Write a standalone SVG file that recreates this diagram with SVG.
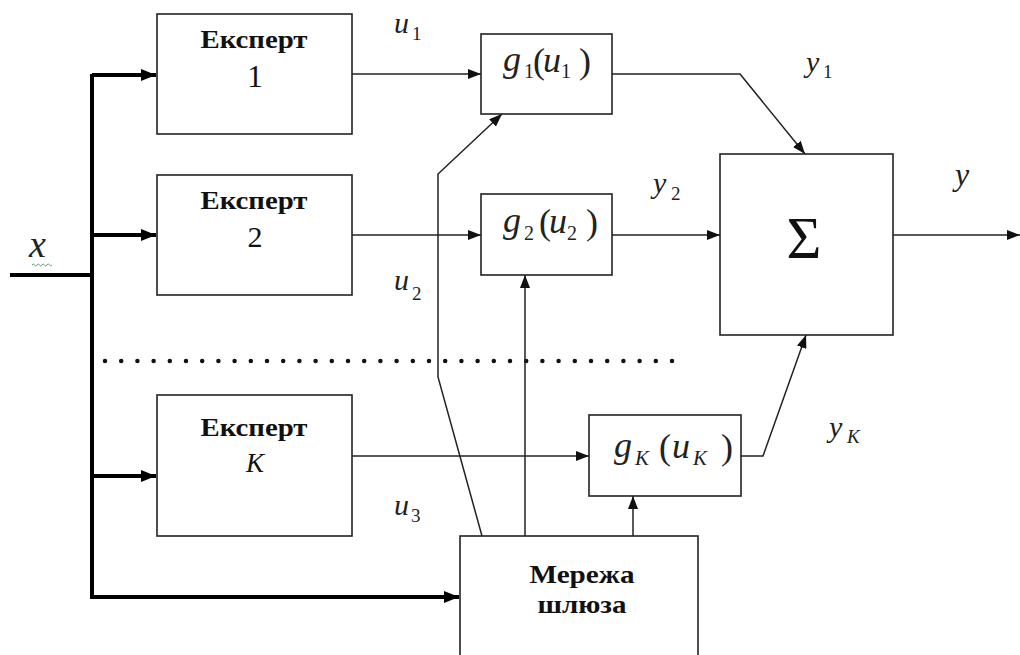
<svg xmlns="http://www.w3.org/2000/svg" width="1020" height="655" viewBox="0 0 1020 655" font-family="Liberation Serif, serif">
<defs>
<marker id="a" markerUnits="userSpaceOnUse" markerWidth="14" markerHeight="10" refX="13" refY="5" orient="auto"><path d="M0,0 L13,5 L0,10 z" fill="#111"/></marker>
<marker id="ab" markerUnits="userSpaceOnUse" markerWidth="16" markerHeight="12" refX="15" refY="6" orient="auto"><path d="M0,0 L15,6 L0,12 z" fill="#000"/></marker>
</defs>
<rect width="1020" height="655" fill="#fff"/>

<g id="connectors" fill="none">
<g stroke="#000" stroke-width="4">
<path d="M10,275 H92"/>
<path d="M92,74 V597 H459" marker-end="url(#ab)"/>
<path d="M92,75 H156" marker-end="url(#ab)"/>
<path d="M92,235 H156" marker-end="url(#ab)"/>
<path d="M92,476 H156" marker-end="url(#ab)"/>
</g>
<path d="M105,361 H676" stroke="#111" stroke-width="4.5" stroke-linecap="round" stroke-dasharray="0 16.2"/>
<g stroke="#222" stroke-width="1.5">
<path d="M352,74 H481" marker-end="url(#a)"/>
<path d="M352,235 H481" marker-end="url(#a)"/>
<path d="M352,456 H589" marker-end="url(#a)"/>
<path d="M612,74 H740 L805,154" marker-end="url(#a)"/>
<path d="M612,235 H720" marker-end="url(#a)"/>
<path d="M741,456 H763 L806,335" marker-end="url(#a)"/>
<path d="M893,235 H1020" marker-end="url(#a)"/>
<path d="M482,536 L438,377 V174 L502,114" marker-end="url(#a)"/>
<path d="M525,536 V275" marker-end="url(#a)"/>
<path d="M633,536 V496" marker-end="url(#a)"/>
</g>
</g>

<g fill="#222">
<g id="expert1">
<rect x="157" y="14" width="195" height="120" fill="#fff" stroke="#222" stroke-width="1.6"/>
<text x="254" y="48" style="font-family:'Liberation Serif',serif !important" font-weight="bold" font-size="25" text-anchor="middle" fill="#111" textLength="107" lengthAdjust="spacingAndGlyphs">Експерт</text>
<text x="255" y="87" style="font-family:'Liberation Serif',serif !important" font-size="31" text-anchor="middle" fill="#111">1</text>
</g>
<g id="expert2">
<rect x="157" y="175" width="195" height="120" fill="#fff" stroke="#222" stroke-width="1.6"/>
<text x="254" y="209" style="font-family:'Liberation Serif',serif !important" font-weight="bold" font-size="25" text-anchor="middle" fill="#111" textLength="107" lengthAdjust="spacingAndGlyphs">Експерт</text>
<text x="255" y="247" style="font-family:'Liberation Serif',serif !important" font-size="30" text-anchor="middle" fill="#111">2</text>
</g>
<g id="expertK">
<rect x="157" y="395" width="195" height="141" fill="#fff" stroke="#222" stroke-width="1.6"/>
<text x="254" y="436" style="font-family:'Liberation Serif',serif !important" font-weight="bold" font-size="25" text-anchor="middle" fill="#111" textLength="107" lengthAdjust="spacingAndGlyphs">Експерт</text>
<text x="255" y="472" style="font-family:'Liberation Serif',serif !important" font-style="italic" font-size="27" text-anchor="middle" fill="#111">K</text>
</g>

<g id="g1">
<rect x="481" y="34" width="131" height="80" fill="#fff" stroke="#222" stroke-width="1.6"/>
<text x="503" y="71" style="font-family:'Liberation Serif',serif !important" font-style="italic" font-size="36">g</text>
<text x="524" y="78" style="font-family:'Liberation Serif',serif !important" font-size="20">1</text>
<text x="533" y="73" style="font-family:'Liberation Serif',serif !important" font-size="36">(</text>
<text x="543" y="72" style="font-family:'Liberation Serif',serif !important" font-style="italic" font-size="36">u</text>
<text x="561" y="78" style="font-family:'Liberation Serif',serif !important" font-size="20">1</text>
<text x="579" y="73" style="font-family:'Liberation Serif',serif !important" font-size="36">)</text>
</g>
<g id="g2">
<rect x="481" y="194" width="131" height="81" fill="#fff" stroke="#222" stroke-width="1.6"/>
<text x="503" y="232" style="font-family:'Liberation Serif',serif !important" font-style="italic" font-size="36">g</text>
<text x="524" y="240" style="font-family:'Liberation Serif',serif !important" font-size="20">2</text>
<text x="539" y="234" style="font-family:'Liberation Serif',serif !important" font-size="36">(</text>
<text x="549" y="233" style="font-family:'Liberation Serif',serif !important" font-style="italic" font-size="36">u</text>
<text x="567" y="240" style="font-family:'Liberation Serif',serif !important" font-size="20">2</text>
<text x="586" y="234" style="font-family:'Liberation Serif',serif !important" font-size="36">)</text>
</g>
<g id="gK">
<rect x="589" y="415" width="152" height="81" fill="#fff" stroke="#222" stroke-width="1.6"/>
<text x="614" y="457" style="font-family:'Liberation Serif',serif !important" font-style="italic" font-size="36">g</text>
<text x="635" y="465" style="font-family:'Liberation Serif',serif !important" font-style="italic" font-size="21">K</text>
<text x="659" y="459" style="font-family:'Liberation Serif',serif !important" font-size="36">(</text>
<text x="672" y="458" style="font-family:'Liberation Serif',serif !important" font-style="italic" font-size="36">u</text>
<text x="693" y="465" style="font-family:'Liberation Serif',serif !important" font-style="italic" font-size="21">K</text>
<text x="721" y="459" style="font-family:'Liberation Serif',serif !important" font-size="36">)</text>
</g>

<g id="sum">
<rect x="720" y="154" width="173" height="181" fill="#fff" stroke="#222" stroke-width="1.6"/>
<text x="804" y="258" style="font-family:'Liberation Serif',serif !important" font-size="60" text-anchor="middle" fill="#111">Σ</text>
</g>

<g id="gateway">
<rect x="460" y="536" width="238" height="130" fill="#fff" stroke="#222" stroke-width="1.6"/>
<text x="582" y="583" style="font-family:'Liberation Serif',serif !important" font-weight="bold" font-size="25" text-anchor="middle" fill="#111" textLength="105" lengthAdjust="spacingAndGlyphs">Мережа</text>
<text x="582" y="613" style="font-family:'Liberation Serif',serif !important" font-weight="bold" font-size="25" text-anchor="middle" fill="#111" textLength="89" lengthAdjust="spacingAndGlyphs">шлюза</text>
</g>

<g id="labels">
<text x="29" y="257" style="font-family:'Liberation Serif',serif !important" font-style="italic" font-size="38">x</text>
<path d="M32,265 q1.25,-2 2.5,0 t2.5,0 t2.5,0 t2.5,0 t2.5,0 t2.5,0 t2.5,0 t2.5,0" fill="none" stroke="#5a5" stroke-width="1"/>
<text x="394" y="33" style="font-family:'Liberation Serif',serif !important" font-style="italic" font-size="30">u</text>
<text x="412" y="40" style="font-family:'Liberation Serif',serif !important" font-size="19">1</text>
<text x="394" y="290" style="font-family:'Liberation Serif',serif !important" font-style="italic" font-size="30">u</text>
<text x="412" y="300" style="font-family:'Liberation Serif',serif !important" font-size="19">2</text>
<text x="394" y="515" style="font-family:'Liberation Serif',serif !important" font-style="italic" font-size="30">u</text>
<text x="411" y="522" style="font-family:'Liberation Serif',serif !important" font-size="19">3</text>
<text x="806" y="72" style="font-family:'Liberation Serif',serif !important" font-style="italic" font-size="30">y</text>
<text x="823" y="78" style="font-family:'Liberation Serif',serif !important" font-size="19">1</text>
<text x="653" y="193" style="font-family:'Liberation Serif',serif !important" font-style="italic" font-size="30">y</text>
<text x="671" y="200" style="font-family:'Liberation Serif',serif !important" font-size="19">2</text>
<text x="955" y="185" style="font-family:'Liberation Serif',serif !important" font-style="italic" font-size="32">y</text>
<text x="829" y="437" style="font-family:'Liberation Serif',serif !important" font-style="italic" font-size="30">y</text>
<text x="847" y="443" style="font-family:'Liberation Serif',serif !important" font-style="italic" font-size="19">K</text>
</g>
</g>
</svg>
